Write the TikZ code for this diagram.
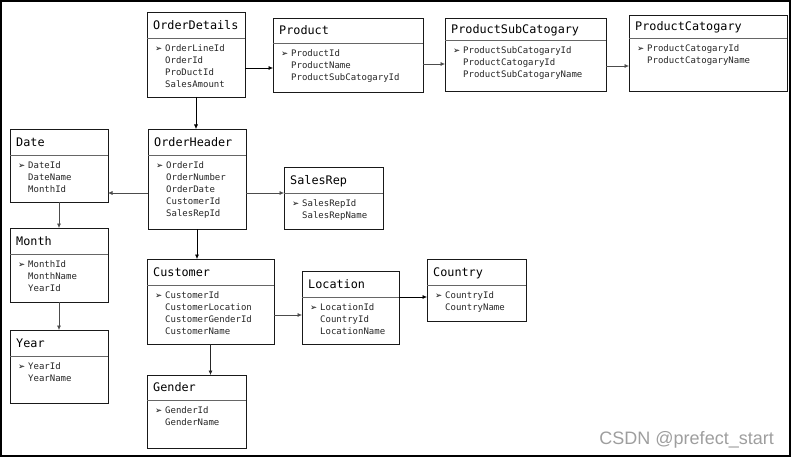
\documentclass[tikz,border=0pt]{standalone}
\usepackage{fontspec}
\setmonofont{DejaVu Sans Mono}
\newfontfamily\symfont{DejaVu Sans}
\newfontfamily\markfont{Liberation Sans}
\usepackage{tikz}
\usetikzlibrary{arrows.meta}

\newcommand{\pk}{\makebox[10pt][l]{\symfont\fontsize{8.5}{8.5}\selectfont\color{black}➢}}
\newcommand{\fk}{\hspace*{10pt}}

\begin{document}
\begin{tikzpicture}[x=1pt, y=-1pt,
	tbl/.style={draw=black!90, line width=0.9pt, anchor=north west, inner sep=0pt, outer sep=0pt},
	hdr/.style={draw=black!60, line width=0.8pt},
	ttl/.style={anchor=base west, inner sep=0pt, font=\ttfamily\fontsize{11.8}{14}\selectfont},
	itm/.style={anchor=north west, inner sep=0pt, align=left, text=black!85, font=\ttfamily\fontsize{9}{12}\selectfont},
	link/.style={draw=black!70, line width=0.6pt, -{Latex[length=4.5pt,width=4pt]}}]
	\useasboundingbox (0,0) rectangle (792,457);
	\draw[line width=2pt] (1,1) rectangle (790.3,455.5); %frame
	%
	% OrderDetails
	\node[tbl, minimum width=98pt, minimum height=85pt] (od) at (147,12) {};
	\draw[hdr] (od.west |- 0,38) -- (od.east |- 0,38);
	\node[ttl] (odt) at (153,29.3) {OrderDetails};
	\node[itm] (odi) at (155,44) {\pk OrderLineId\\\fk OrderId\\\fk ProDuctId\\\fk SalesAmount};
	%
	% Product
	\node[tbl, minimum width=150pt, minimum height=74pt] (p) at (273,18) {};
	\draw[hdr] (p.west |- 0,43) -- (p.east |- 0,43);
	\node[ttl] (pt) at (279,34.8) {Product};
	\node[itm] (pi) at (281,49) {\pk ProductId\\\fk ProductName\\\fk ProductSubCatogaryId};
	%
	% ProductSubCatogary
	\node[tbl, minimum width=161pt, minimum height=73pt] (psc) at (445,18) {};
	\draw[hdr] (psc.west |- 0,40) -- (psc.east |- 0,40);
	\node[ttl] (psct) at (451,33.3) {ProductSubCatogary};
	\node[itm] (psci) at (453,46) {\pk ProductSubCatogaryId\\\fk ProductCatogaryId\\\fk ProductSubCatogaryName};
	%
	% ProductCatogary
	\node[tbl, minimum width=158pt, minimum height=76pt] (pc) at (629,15) {};
	\draw[hdr] (pc.west |- 0,38) -- (pc.east |- 0,38);
	\node[ttl] (pct) at (635,30.8) {ProductCatogary};
	\node[itm] (pci) at (637,44) {\pk ProductCatogaryId\\\fk ProductCatogaryName};
	%
	% Date
	\node[tbl, minimum width=98pt, minimum height=73pt] (date) at (10,129) {};
	\draw[hdr] (date.west |- 0,155) -- (date.east |- 0,155);
	\node[ttl] (datet) at (16,146.3) {Date};
	\node[itm] (datei) at (18,161) {\pk DateId\\\fk DateName\\\fk MonthId};
	%
	% OrderHeader
	\node[tbl, minimum width=98pt, minimum height=100pt] (oh) at (148,129) {};
	\draw[hdr] (oh.west |- 0,155) -- (oh.east |- 0,155);
	\node[ttl] (oht) at (154,146.3) {OrderHeader};
	\node[itm] (ohi) at (156,161) {\pk OrderId\\\fk OrderNumber\\\fk OrderDate\\\fk CustomerId\\\fk SalesRepId};
	%
	% SalesRep
	\node[tbl, minimum width=99pt, minimum height=62pt] (sr) at (284,167) {};
	\draw[hdr] (sr.west |- 0,193) -- (sr.east |- 0,193);
	\node[ttl] (srt) at (290,184.3) {SalesRep};
	\node[itm] (sri) at (292,199) {\pk SalesRepId\\\fk SalesRepName};
	%
	% Month
	\node[tbl, minimum width=98pt, minimum height=74pt] (month) at (10,228) {};
	\draw[hdr] (month.west |- 0,254) -- (month.east |- 0,254);
	\node[ttl] (montht) at (16,245.3) {Month};
	\node[itm] (monthi) at (18,260) {\pk MonthId\\\fk MonthName\\\fk YearId};
	%
	% Year
	\node[tbl, minimum width=98pt, minimum height=73pt] (year) at (10,330) {};
	\draw[hdr] (year.west |- 0,356) -- (year.east |- 0,356);
	\node[ttl] (yeart) at (16,347.3) {Year};
	\node[itm] (yeari) at (18,362) {\pk YearId\\\fk YearName};
	%
	% Customer
	\node[tbl, minimum width=127pt, minimum height=85pt] (cu) at (147,259) {};
	\draw[hdr] (cu.west |- 0,285) -- (cu.east |- 0,285);
	\node[ttl] (cut) at (153,276.3) {Customer};
	\node[itm] (cui) at (155,291) {\pk CustomerId\\\fk CustomerLocation\\\fk CustomerGenderId\\\fk CustomerName};
	%
	% Location
	\node[tbl, minimum width=97pt, minimum height=73pt] (loc) at (302,271) {};
	\draw[hdr] (loc.west |- 0,297) -- (loc.east |- 0,297);
	\node[ttl] (loct) at (308,288.3) {Location};
	\node[itm] (loci) at (310,303) {\pk LocationId\\\fk CountryId\\\fk LocationName};
	%
	% Country
	\node[tbl, minimum width=99pt, minimum height=62pt] (co) at (427,259) {};
	\draw[hdr] (co.west |- 0,285) -- (co.east |- 0,285);
	\node[ttl] (cot) at (433,276.3) {Country};
	\node[itm] (coi) at (435,291) {\pk CountryId\\\fk CountryName};
	%
	% Gender
	\node[tbl, minimum width=99pt, minimum height=73pt] (ge) at (147,375) {};
	\draw[hdr] (ge.west |- 0,400) -- (ge.east |- 0,400);
	\node[ttl] (get) at (153,391.8) {Gender};
	\node[itm] (gei) at (155,406) {\pk GenderId\\\fk GenderName};
	%
	%
	% relations
	\draw[link, draw=black] (od.south) -- (od.south |- oh.north);
	\draw[link, draw=black] (od.east |- 0,68) -- (p.west |- 0,68);
	\draw[link] (p.east |- 0,64) -- (psc.west |- 0,64);
	\draw[link] (psc.east |- 0,66) -- (pc.west |- 0,66);
	\draw[link] (oh.west |- 0,193) -- (date.east |- 0,193);
	\draw[link] (oh.east |- 0,193) -- (sr.west |- 0,193);
	\draw[link, draw=black] (oh.south) -- (oh.south |- cu.north);
	\draw[link] (date.south) -- (month.north);
	\draw[link] (month.south) -- (year.north);
	\draw[link] (cu.east |- 0,315) -- (loc.west |- 0,315);
	\draw[link, draw=black] (loc.east |- 0,297) -- (co.west |- 0,297);
	\draw[link, draw=black!85] (cu.south) -- (cu.south |- ge.north);
	%
	% watermark
	\node[anchor=east, inner sep=0pt, text=black!38, font=\markfont\fontsize{18}{18}\selectfont] (wm) at (774,440) {CSDN @prefect\_start};
\end{tikzpicture}
\end{document}
